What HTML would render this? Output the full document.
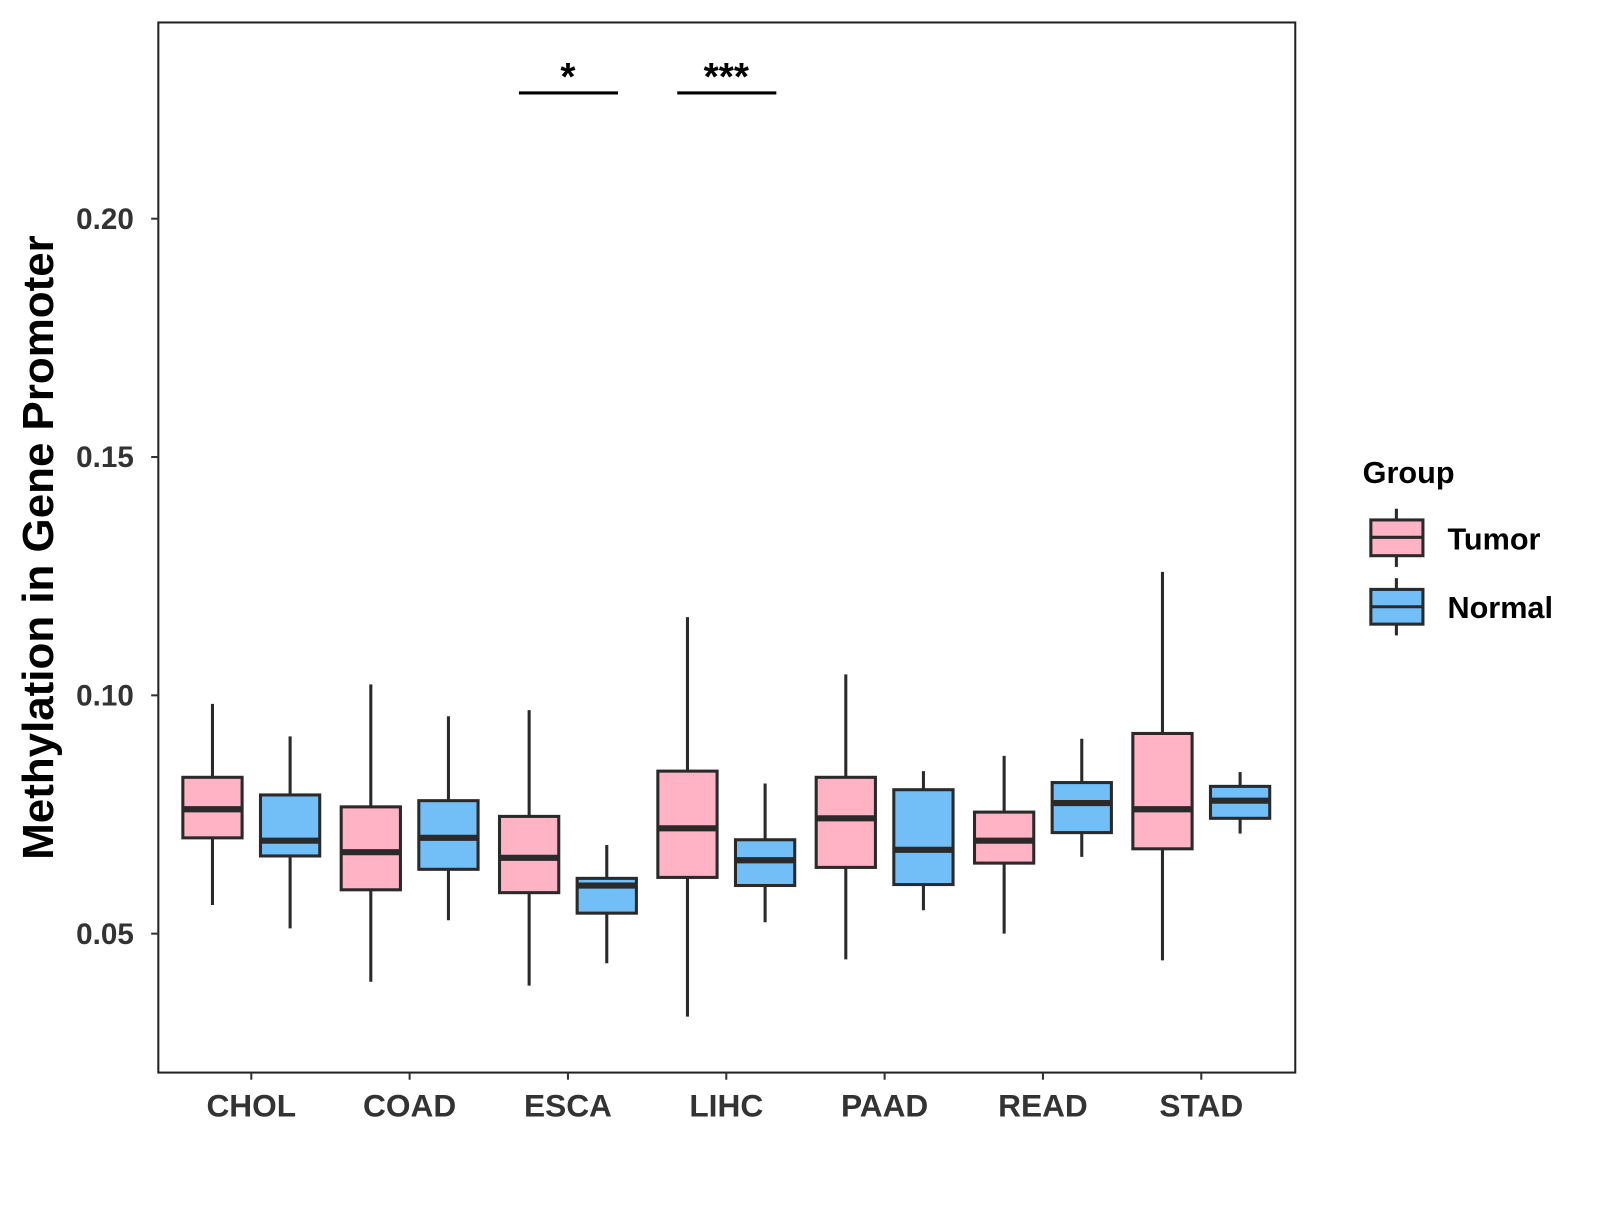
<!DOCTYPE html>
<html><head><meta charset="utf-8"><style>
body{margin:0;background:#fff}
svg text{font-family:"Liberation Sans",Arial,sans-serif;font-weight:bold}
</style></head><body>
<svg id="chart" width="1600" height="1200" viewBox="0 0 1600 1200">
<g transform="scale(1.0215)">
<rect x="155" y="22" width="1113" height="1028" fill="#fff" stroke="#222" stroke-width="2"/>
<g id="marks"></g>
<text transform="translate(52,536) rotate(-90)" text-anchor="middle" font-size="43" fill="#000">Methylation in Gene Promoter</text>
<g>
<line x1="508" x2="605" y1="91" y2="91" stroke="#000" stroke-width="3"/>
<text x="556" y="88" text-anchor="middle" font-size="38">*</text></g>
<g>
<line x1="663" x2="760" y1="91" y2="91" stroke="#000" stroke-width="3"/>
<text x="711" y="88" text-anchor="middle" font-size="38">***</text></g>
<g>
<text x="1334" y="473" font-size="30">Group</text>
<g>
<line x1="1367" x2="1367" y1="498" y2="555" stroke="#2a2a2a" stroke-width="3"/>
<rect x="1342" y="509" width="51" height="35" fill="#FFB3C4" stroke="#2a2a2a" stroke-width="3"/>
<line x1="1342" x2="1393" y1="526" y2="526" stroke="#2a2a2a" stroke-width="3"/>
<text x="1417" y="538" font-size="30">Tumor</text></g>
<g>
<line x1="1367" x2="1367" y1="566" y2="622" stroke="#2a2a2a" stroke-width="3"/>
<rect x="1342" y="577" width="51" height="34" fill="#72BFF7" stroke="#2a2a2a" stroke-width="3"/>
<line x1="1342" x2="1393" y1="594" y2="594" stroke="#2a2a2a" stroke-width="3"/>
<text x="1417" y="605" font-size="30">Normal</text></g>
</g>
</g>
</svg>
<script>
const categories=["CHOL","COAD","ESCA","LIHC","PAAD","READ","STAD"];
const yTicks=[0.05,0.10,0.15,0.20];
const yTickLabels=["0.05","0.10","0.15","0.20"];
// [lower whisker, q1, median, q3, upper whisker]
const tumorStats=[
[0.0560,0.0701,0.0761,0.0828,0.0982],
[0.0399,0.0592,0.0671,0.0766,0.1023],
[0.0391,0.0586,0.0659,0.0746,0.0969],
[0.0326,0.0618,0.0721,0.0841,0.1164],
[0.0446,0.0639,0.0742,0.0828,0.1044],
[0.0500,0.0648,0.0695,0.0755,0.0873],
[0.0444,0.0678,0.0761,0.0920,0.1259]];
const normalStats=[
[0.0511,0.0663,0.0695,0.0791,0.0914],
[0.0528,0.0635,0.0701,0.0779,0.0956],
[0.0438,0.0543,0.0601,0.0616,0.0686],
[0.0524,0.0601,0.0654,0.0697,0.0815],
[0.0549,0.0603,0.0676,0.0802,0.0841],
[0.0661,0.0712,0.0774,0.0817,0.0909],
[0.0710,0.0742,0.0779,0.0809,0.0839]];
const NS="http://www.w3.org/2000/svg";
const g=document.getElementById('marks');
const y=v=>914-(v-0.05)*4666;
const x=i=>246+i*155;
function mk(t,a){const e=document.createElementNS(NS,t);for(const k in a)e.setAttribute(k,a[k]);g.appendChild(e);return e;}
yTicks.forEach((v,i)=>{
 const t=mk('line',{x1:148,x2:155,y1:y(v),y2:y(v),stroke:'#333','stroke-width':2});
 
 
 const l=mk('text',{x:131,y:y(v)+10,'text-anchor':'end','font-size':29,fill:'#333'});
 l.textContent=yTickLabels[i];
 
 
});
categories.forEach((c,i)=>{
 const t=mk('line',{x1:x(i),x2:x(i),y1:1050,y2:1057,stroke:'#333','stroke-width':2});
 
 
 const l=mk('text',{x:x(i),y:1093,'text-anchor':'middle','font-size':31,fill:'#333'});
 l.textContent=c;
 
 
 [[tumorStats[i],-38,'#FFB3C4','tumor'],[normalStats[i],38,'#72BFF7','normal']].forEach(([s,off,col,nm])=>{
  const cx=x(i)+off;
  const w=mk('line',{x1:cx,x2:cx,y1:y(s[0]),y2:y(s[4]),stroke:'#2a2a2a','stroke-width':3});
  
  
  const b=mk('rect',{x:cx-29,y:y(s[3]),width:58,height:y(s[1])-y(s[3]),fill:col,stroke:'#2a2a2a','stroke-width':3});
  
  
  const m=mk('line',{x1:cx-29,x2:cx+29,y1:y(s[2]),y2:y(s[2]),stroke:'#2a2a2a','stroke-width':6});
  
  
 });
});
</script>
</body></html>
